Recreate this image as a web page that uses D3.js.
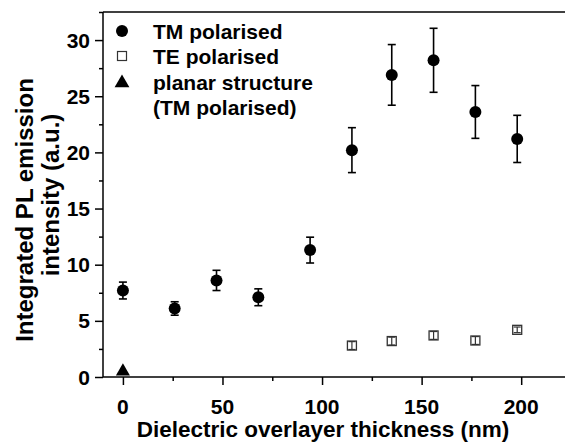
<!DOCTYPE html>
<html><head><meta charset="utf-8">
<script src="https://cdn.jsdelivr.net/npm/d3@7"></script>
<style>
html,body{margin:0;padding:0;background:#fff;}
svg text{font-family:"Liberation Sans",Arial,Helvetica,sans-serif;font-weight:bold;fill:#000;}
</style></head>
<body>
<svg id="c" width="566" height="444"></svg>
<script>
const thicknessTM = [0, 26, 47, 68, 94, 115, 135, 156, 177, 198];
const tmValues   = [7.7, 6.1, 8.6, 7.1, 11.3, 20.2, 26.9, 28.2, 23.6, 21.2];
const tmErrors   = [0.75, 0.6, 0.9, 0.75, 1.15, 2.0, 2.7, 2.85, 2.35, 2.1];
const thicknessTE = [115, 135, 156, 177, 198];
const teValues   = [2.8, 3.2, 3.7, 3.25, 4.2];
const teErrors   = [0.35, 0.35, 0.35, 0.35, 0.25];
const planarX = [0];
const planarY = [0.5];
const xTicks = [0, 50, 100, 150, 200];
const yTicks = [0, 5, 10, 15, 20, 25, 30];
const legendLabels = ["TM polarised", "TE polarised", "planar structure", "(TM polarised)"];

const svg = d3.select("#c");
const x = d3.scaleLinear().domain([-10, 222]).range([103, 565]);
const y = d3.scaleLinear().domain([0, 32.5]).range([377, 12]);

// frame top line
svg.append("line").attr("x1", 103).attr("x2", 565).attr("y1", 12).attr("y2", 12)
  .attr("stroke", "#000").attr("stroke-width", 1.5);

// x axis
const xMinor = d3.range(0, 225, 25);
const gx = svg.append("g").attr("transform", `translate(0,${y(0)})`);
gx.call(d3.axisBottom(x).tickValues(xMinor).tickSize(4).tickFormat(""));
gx.call(g => g.selectAll(".tick").filter(d => xTicks.indexOf(d) >= 0).select("line").attr("y2", 8));
gx.select(".domain").attr("d", `M103,0H565`);
gx.selectAll("line,path").attr("stroke", "#000").attr("stroke-width", 1.5);
gx.selectAll(".tickl").data(xTicks).enter().append("text")
  .attr("x", d => x(d)).attr("y", 37).attr("text-anchor", "middle")
  .attr("font-size", 21).text(d => d);

// y axis
const yMinor = d3.range(0, 32.6, 2.5);
const gy = svg.append("g").attr("transform", `translate(103,0)`);
gy.call(d3.axisLeft(y).tickValues(yMinor).tickSize(4).tickFormat(""));
gy.call(g => g.selectAll(".tick").filter(d => yTicks.indexOf(d) >= 0).select("line").attr("x2", -8));
gy.select(".domain").attr("d", `M0,${y(0)}V12`);
gy.selectAll("line,path").attr("stroke", "#000").attr("stroke-width", 1.5);
gy.selectAll(".tickl").data(yTicks).enter().append("text")
  .attr("x", -13).attr("y", d => y(d)).attr("dy", "0.36em").attr("text-anchor", "end")
  .attr("font-size", 21).text(d => d);

// axis titles
svg.append("text").attr("x", 323).attr("y", 437).attr("text-anchor", "middle")
  .attr("font-size", 22.5).text("Dielectric overlayer thickness (nm)");
svg.append("text").attr("transform", "translate(33,210) rotate(-90)").attr("text-anchor", "middle")
  .attr("font-size", 24).text("Integrated PL emission");
svg.append("text").attr("transform", "translate(59,195) rotate(-90)").attr("text-anchor", "middle")
  .attr("font-size", 24).text("intensity (a.u.)");

// TM error bars + points
const tm = thicknessTM.map((t, i) => ({x: t, v: tmValues[i], e: tmErrors[i]}));
const eb = svg.append("g").attr("stroke", "#000").attr("stroke-width", 1.6);
tm.forEach(d => {
  eb.append("line").attr("x1", x(d.x)).attr("x2", x(d.x)).attr("y1", y(d.v - d.e)).attr("y2", y(d.v + d.e));
  eb.append("line").attr("x1", x(d.x) - 4).attr("x2", x(d.x) + 4).attr("y1", y(d.v - d.e)).attr("y2", y(d.v - d.e));
  eb.append("line").attr("x1", x(d.x) - 4).attr("x2", x(d.x) + 4).attr("y1", y(d.v + d.e)).attr("y2", y(d.v + d.e));
});
svg.append("g").selectAll("circle").data(tm).enter().append("circle")
  .attr("cx", d => x(d.x)).attr("cy", d => y(d.v)).attr("r", 6).attr("fill", "#000");

// TE
const te = thicknessTE.map((t, i) => ({x: t, v: teValues[i], e: teErrors[i]}));
const teg = svg.append("g");
te.forEach(d => {
  teg.append("rect").attr("x", x(d.x) - 4.5).attr("y", y(d.v) - 4.5).attr("width", 9).attr("height", 9)
    .attr("fill", "#fff").attr("stroke", "#333").attr("stroke-width", 1.3);
  teg.append("line").attr("x1", x(d.x)).attr("x2", x(d.x)).attr("y1", y(d.v - d.e)).attr("y2", y(d.v + d.e)).attr("stroke", "#333").attr("stroke-width", 1.2);
  [d.v - d.e, d.v + d.e].forEach(v => teg.append("line").attr("x1", x(d.x) - 3.5).attr("x2", x(d.x) + 3.5)
    .attr("y1", y(v)).attr("y2", y(v)).attr("stroke", "#333").attr("stroke-width", 1.2));
});

// planar triangle
const tri = d3.symbol().type(d3.symbolTriangle).size(85);
svg.append("g").selectAll("path").data(planarX.map((p, i) => ({x: p, v: planarY[i]}))).enter().append("path")
  .attr("d", tri).attr("transform", d => `translate(${x(d.x)},${y(d.v)})`).attr("fill", "#000");

// legend
const lg = svg.append("g");
const rows = [31, 56, 82, 107];
lg.append("circle").attr("cx", 122).attr("cy", rows[0]).attr("r", 6).attr("fill", "#000");
lg.append("rect").attr("x", 117.5).attr("y", rows[1] - 4.5).attr("width", 9).attr("height", 9)
  .attr("fill", "#fff").attr("stroke", "#333").attr("stroke-width", 1.2);
lg.append("path").attr("d", d3.symbol().type(d3.symbolTriangle).size(95)).attr("transform", `translate(122,${rows[2]+1})`).attr("fill", "#000");
legendLabels.forEach((t, i) => lg.append("text").attr("x", 153).attr("y", rows[i]).attr("dy", "0.36em")
  .attr("font-size", 21).text(t));
</script>
</body></html>
